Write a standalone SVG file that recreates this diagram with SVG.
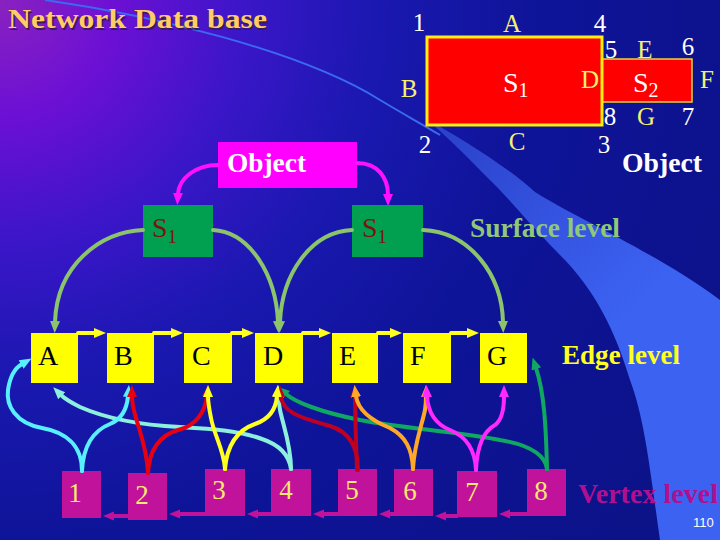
<svg xmlns="http://www.w3.org/2000/svg" width="720" height="540" viewBox="0 0 720 540">
<defs>
<radialGradient id="bg" cx="0" cy="0" r="820" gradientUnits="userSpaceOnUse">
<stop offset="0" stop-color="#8a22c0"/>
<stop offset="0.14" stop-color="#6c10d4"/>
<stop offset="0.3" stop-color="#3a16c8"/>
<stop offset="0.46" stop-color="#1a18b0"/>
<stop offset="0.66" stop-color="#0e1498"/>
<stop offset="1" stop-color="#0c1288"/>
</radialGradient>
<linearGradient id="sw" x1="430" y1="120" x2="620" y2="320" gradientUnits="userSpaceOnUse">
<stop offset="0" stop-color="#2a40c8"/>
<stop offset="1" stop-color="#3c62f2"/>
</linearGradient>
<marker id="mSage" viewBox="0 -6 12 12" refX="1" refY="0" markerWidth="12" markerHeight="12" markerUnits="userSpaceOnUse" orient="auto"><path d="M0,-5 L12,0 L0,5 z" fill="#8cc46c"/></marker>
<marker id="mObj" viewBox="0 -6 12 12" refX="1" refY="0" markerWidth="12" markerHeight="12" markerUnits="userSpaceOnUse" orient="auto"><path d="M0,-5 L12,0 L0,5 z" fill="#ff10ff"/></marker>
<marker id="mYel" viewBox="0 -6 12 12" refX="1" refY="0" markerWidth="12" markerHeight="12" markerUnits="userSpaceOnUse" orient="auto"><path d="M0,-5 L12,0 L0,5 z" fill="#ffff20"/></marker>
<marker id="mPur" viewBox="0 -6 12 12" refX="1" refY="0" markerWidth="12" markerHeight="12" markerUnits="userSpaceOnUse" orient="auto"><path d="M0,-4.5 L11,0 L0,4.5 z" fill="#c0129a"/></marker>
<marker id="mCyan" viewBox="0 -6 12 12" refX="1" refY="0" markerWidth="12" markerHeight="12" markerUnits="userSpaceOnUse" orient="auto"><path d="M0,-5 L12,0 L0,5 z" fill="#58f0ff"/></marker>
<marker id="mPale" viewBox="0 -6 12 12" refX="1" refY="0" markerWidth="12" markerHeight="12" markerUnits="userSpaceOnUse" orient="auto"><path d="M0,-5 L12,0 L0,5 z" fill="#8cf0dc"/></marker>
<marker id="mRed" viewBox="0 -6 12 12" refX="1" refY="0" markerWidth="12" markerHeight="12" markerUnits="userSpaceOnUse" orient="auto"><path d="M0,-5 L12,0 L0,5 z" fill="#e80010"/></marker>
<marker id="mDRed" viewBox="0 -6 12 12" refX="1" refY="0" markerWidth="12" markerHeight="12" markerUnits="userSpaceOnUse" orient="auto"><path d="M0,-5 L12,0 L0,5 z" fill="#c00020"/></marker>
<marker id="mOra" viewBox="0 -6 12 12" refX="1" refY="0" markerWidth="12" markerHeight="12" markerUnits="userSpaceOnUse" orient="auto"><path d="M0,-5 L12,0 L0,5 z" fill="#ffa828"/></marker>
<marker id="mMag" viewBox="0 -6 12 12" refX="1" refY="0" markerWidth="12" markerHeight="12" markerUnits="userSpaceOnUse" orient="auto"><path d="M0,-5 L12,0 L0,5 z" fill="#ff28ff"/></marker>
<marker id="mGrn" viewBox="0 -6 12 12" refX="1" refY="0" markerWidth="12" markerHeight="12" markerUnits="userSpaceOnUse" orient="auto"><path d="M0,-5 L12,0 L0,5 z" fill="#10a860"/></marker>
</defs>
<style>
.serif{font-family:"Liberation Serif","Times New Roman",serif}
.bold{font-weight:bold}
.c{text-anchor:middle}
.w{fill:#ffffff}
.y{fill:#f4f070}
.edge rect{fill:#ffff00}
.edge text{fill:#000000;font-size:28px}
.vert rect{fill:#c0129a}
.vert text{fill:#f8e870;font-size:27px;text-anchor:middle}
.surf rect{fill:#00a050}
.surf text{fill:#7a1410;font-size:28px}
.cn path{fill:none;stroke-width:4;stroke-linecap:round}
.sage{stroke:#8cc46c}
.yel{stroke:#ffff20}
.pur{stroke:#c0129a;stroke-width:3.5}
.cyan{stroke:#58f0ff}
.pale{stroke:#8cf0dc}
.red{stroke:#e80010}
.dred{stroke:#c00020}
.ora{stroke:#ffa828}
.mag{stroke:#ff28ff}
.grn{stroke:#10a860}
.obj{stroke:#ff10ff}
</style>
<rect width="720" height="540" fill="url(#bg)"/>
<path d="M45,0 C150,15 300,50 380,100 C405,115 420,123 440,135" fill="none" stroke="#3a6af0" stroke-width="2"/>
<path d="M425,118 C460,138 505,165 535,192 C580,220 660,255 720,300 L720,540 L660,540 C650,470 645,420 630,380 C615,330 595,290 560,255 C530,225 510,200 495,185 C470,160 448,137 425,118 Z" fill="url(#sw)"/>

<text x="9.5" y="29.5" class="serif bold" font-size="28" textLength="259" lengthAdjust="spacingAndGlyphs" fill="#3a1a50">Network Data base</text>
<text x="8" y="28" class="serif bold" font-size="28" textLength="259" lengthAdjust="spacingAndGlyphs" fill="#ffcc66">Network Data base</text>

<g id="object-figure">
<rect x="602" y="59" width="90" height="43" fill="#ff0000" stroke="#f0d040" stroke-width="1.5"/>
<rect x="427" y="37" width="175" height="88" fill="#ff0000" stroke="#ffee10" stroke-width="3"/>
<g class="serif" font-size="25">
<text x="419" y="31" class="c w">1</text>
<text x="512" y="32" class="c y">A</text>
<text x="600" y="32" class="c w">4</text>
<text x="611" y="58" class="c w">5</text>
<text x="645" y="58" class="c y">E</text>
<text x="688" y="55" class="c w">6</text>
<text x="409" y="97" class="c y">B</text>
<text x="590" y="88" class="c y">D</text>
<text x="707" y="88" class="c y">F</text>
<text x="610" y="125" class="c w">8</text>
<text x="646" y="125" class="c y">G</text>
<text x="688" y="125" class="c w">7</text>
<text x="425" y="153" class="c w">2</text>
<text x="517" y="150" class="c y">C</text>
<text x="604" y="153" class="c w">3</text>
<text x="503" y="92" class="w" font-size="28">S<tspan font-size="20" dy="5">1</tspan></text>
<text x="633" y="92" class="w" font-size="28">S<tspan font-size="20" dy="5">2</tspan></text>
</g>
<text x="622" y="172" class="serif bold w" font-size="27" textLength="80" lengthAdjust="spacingAndGlyphs">Object</text>
</g>

<g id="object-node">
<rect x="218" y="142" width="139" height="46" fill="#ff00ff"/>
<text x="227" y="172" class="serif bold w" font-size="27" textLength="79" lengthAdjust="spacingAndGlyphs">Object</text>
</g>

<g id="surface-nodes" class="surf serif">
<g id="s1-left"><rect x="143" y="205" width="70" height="52"/><text x="152" y="237">S<tspan font-size="19" dy="6">1</tspan></text></g>
<g id="s1-right"><rect x="352" y="205" width="71" height="52"/><text x="362" y="237">S<tspan font-size="19" dy="6">1</tspan></text></g>
</g>
<text x="470" y="237" class="serif bold" font-size="27" fill="#90c878" textLength="150" lengthAdjust="spacingAndGlyphs">Surface level</text>

<g id="edge-nodes" class="edge serif">
<g id="eA"><rect x="31" y="333" width="47" height="50"/><text x="38" y="365">A</text></g>
<g id="eB"><rect x="107" y="333" width="47" height="50"/><text x="114" y="365">B</text></g>
<g id="eC"><rect x="184" y="333" width="48" height="50"/><text x="192" y="365">C</text></g>
<g id="eD"><rect x="255" y="333" width="48" height="50"/><text x="263" y="365">D</text></g>
<g id="eE"><rect x="332" y="333" width="46" height="50"/><text x="339" y="365">E</text></g>
<g id="eF"><rect x="403" y="333" width="48" height="50"/><text x="410" y="365">F</text></g>
<g id="eG"><rect x="480" y="333" width="47" height="50"/><text x="487" y="365">G</text></g>
</g>
<text x="562" y="364" class="serif bold" font-size="27" fill="#ffff20" textLength="118" lengthAdjust="spacingAndGlyphs">Edge level</text>

<g id="vertex-nodes" class="vert serif">
<g id="v1"><rect x="62" y="471" width="39" height="47"/><text x="75" y="502">1</text></g>
<g id="v2"><rect x="128" y="473" width="39" height="47"/><text x="142" y="504">2</text></g>
<g id="v3"><rect x="205" y="469" width="40" height="47"/><text x="219" y="499">3</text></g>
<g id="v4"><rect x="271" y="469" width="40" height="47"/><text x="286" y="499">4</text></g>
<g id="v5"><rect x="338" y="469" width="39" height="47"/><text x="352" y="499">5</text></g>
<g id="v6"><rect x="394" y="469" width="39" height="47"/><text x="410" y="500">6</text></g>
<g id="v7"><rect x="457" y="471" width="40" height="46"/><text x="472" y="501">7</text></g>
<g id="v8"><rect x="527" y="469" width="39" height="47"/><text x="541" y="500">8</text></g>
</g>
<text x="578" y="503" class="serif bold" font-size="27" fill="#b01090" textLength="140" lengthAdjust="spacingAndGlyphs">Vertex level</text>
<text x="693" y="527" font-family="'Liberation Sans Narrow','Liberation Sans',sans-serif" font-size="13" fill="#ffffff">110</text>

<g id="connectors" class="cn">
<path class="obj" d="M218,165 C196,165 179,178 178,194" marker-end="url(#mObj)"/>
<path class="obj" d="M357,163 C378,163 388,178 388,195" marker-end="url(#mObj)"/>
<path class="sage" d="M143,230 C100,232 57,265 55,322" marker-end="url(#mSage)"/>
<path class="sage" d="M213,230 C250,232 276,275 278,322" marker-end="url(#mSage)"/>
<path class="sage" d="M352,230 C310,232 282,275 280,322" marker-end="url(#mSage)"/>
<path class="sage" d="M423,230 C470,232 502,275 503,322" marker-end="url(#mSage)"/>
<path class="yel" d="M78,333 H95" marker-end="url(#mYel)"/>
<path class="yel" d="M154,333 H172" marker-end="url(#mYel)"/>
<path class="yel" d="M232,333 H243" marker-end="url(#mYel)"/>
<path class="yel" d="M303,333 H320" marker-end="url(#mYel)"/>
<path class="yel" d="M378,333 H391" marker-end="url(#mYel)"/>
<path class="yel" d="M451,333 H468" marker-end="url(#mYel)"/>
<path class="pur" d="M128,516 H113" marker-end="url(#mPur)"/>
<path class="pur" d="M205,514 H179" marker-end="url(#mPur)"/>
<path class="pur" d="M271,514 H257" marker-end="url(#mPur)"/>
<path class="pur" d="M338,514 H323" marker-end="url(#mPur)"/>
<path class="pur" d="M394,514 H389" marker-end="url(#mPur)"/>
<path class="pur" d="M457,516 H445" marker-end="url(#mPur)"/>
<path class="pur" d="M527,514 H509" marker-end="url(#mPur)"/>
<path class="grn" d="M547,469 C545,455 530,445 500,440 C460,432 400,428 360,420 C320,412 295,402 286,394" marker-end="url(#mGrn)"/>
<path class="grn" d="M547,469 C546,425 544,392 536,368" marker-end="url(#mGrn)"/>
<path class="pale" d="M291,469 C289,455 280,445 262,439 C240,431 215,429 180,427 C140,425 105,418 80,407 C70,402 65,399 61,395" marker-end="url(#mPale)"/>
<path class="pale" d="M291,469 C291,445 283,425 280,410 C279,402 278,398 278,396" marker-end="url(#mPale)"/>
<path class="dred" d="M358,470 C358,448 350,432 330,426 C305,419 288,414 283,403 C281,399 280,397 280,396" marker-end="url(#mDRed)"/>
<path class="dred" d="M357,470 C356,440 355,415 355,396" marker-end="url(#mDRed)"/>
<path class="cyan" d="M82,471 C82,445 65,432 42,428 C15,423 6,405 8,390 C10,376 15,368 22,364" marker-end="url(#mCyan)"/>
<path class="cyan" d="M82,471 C83,450 90,432 110,424 C122,419 127,408 128,396" marker-end="url(#mCyan)"/>
<path class="red" d="M148,473 C147,450 140,432 136,418 C133,408 132,402 132,396" marker-end="url(#mRed)"/>
<path class="red" d="M148,473 C149,450 160,435 178,430 C196,426 205,412 207,396" marker-end="url(#mRed)"/>
<path class="yel" d="M225,469 C224,450 214,435 211,418 C209,408 208,402 208,396" marker-end="url(#mYel)"/>
<path class="yel" d="M225,469 C227,445 238,430 255,424 C270,419 276,408 277,396" marker-end="url(#mYel)"/>
<path class="ora" d="M413,469 C412,448 405,436 390,428 C370,420 358,410 356,396" marker-end="url(#mOra)"/>
<path class="ora" d="M413,469 C414,445 422,425 425,410 C426,403 426,399 426,396" marker-end="url(#mOra)"/>
<path class="mag" d="M476,470 C475,448 465,436 450,430 C435,424 428,412 427,396" marker-end="url(#mMag)"/>
<path class="mag" d="M476,470 C477,448 482,432 495,425 C502,420 504,408 504,396" marker-end="url(#mMag)"/>
</g>
</svg>
